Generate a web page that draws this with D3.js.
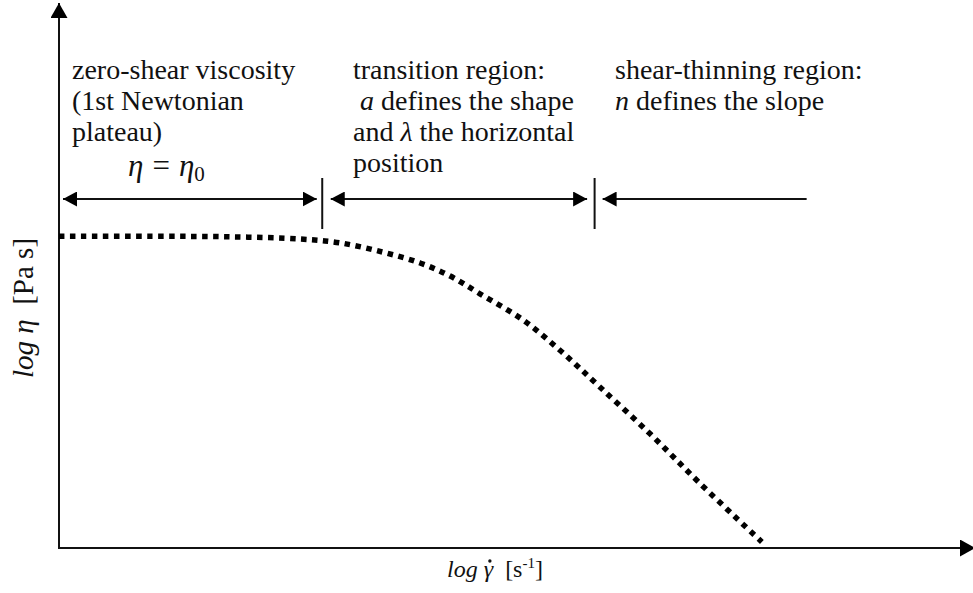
<!DOCTYPE html>
<html>
<head>
<meta charset="utf-8">
<script src="https://cdn.jsdelivr.net/npm/d3@7"></script>
<style>
body { margin: 0; background: #fff; }
text { font-family: "Liberation Serif", "Times New Roman", serif; fill: #111; }
.it { font-style: italic; }
</style>
</head>
<body>
<svg id="chart" width="973" height="593"></svg>
<script>
// curve, arbitrary units (0-100 on both axes)
var logRate = [0, 10, 18.7, 26.4, 30.7, 35.4, 39.5, 42.8, 46.1, 50.8, 55.0, 59.2, 64.7, 70.1, 76.9];
var logVisc = [57.2, 57.2, 57.1, 56.7, 56.0, 54.3, 52.3, 49.9, 46.6, 41.8, 36.0, 29.5, 20.9, 11.9, 1.1];

// region boundaries on the x axis (start, plateau end, transition end, arrow end)
var bounds = [0, 28.8, 58.6, 81.8];

var regionText = [
    [["zero-shear viscosity"], ["(1st Newtonian"], ["plateau)"]],
    [["transition region:"], [" ", "a", " defines the shape"], ["and ", "λ", " the horizontal"], ["position"]],
    [["shear-thinning region:"], ["", "n", " defines the slope"]]
];

var svg = d3.select("#chart");

var x = d3.scaleLinear().domain([0, 100]).range([59, 973]);
var y = d3.scaleLinear().domain([0, 100]).range([548, 3]);

var defs = svg.append("defs");
function addArrow(id, len, half) {
    defs.append("marker")
        .attr("id", id)
        .attr("markerUnits", "userSpaceOnUse")
        .attr("markerWidth", len)
        .attr("markerHeight", half * 2)
        .attr("refX", len)
        .attr("refY", half)
        .attr("orient", "auto-start-reverse")
        .append("path")
        .attr("d", "M0,0 L" + len + "," + half + " L0," + (half * 2) + " Z")
        .style("fill", "#000")
}
addArrow("head", 14, 7.5);
addArrow("axisHead", 15, 8.5);

// axes
svg.append("line")
    .attr("x1", x(0)).attr("y1", y(0))
    .attr("x2", x(0)).attr("y2", y(100))
    .style("stroke", "#111").style("stroke-width", 2)
    .attr("marker-end", "url(#axisHead)");

svg.append("line")
    .attr("x1", x(0) - 1).attr("y1", y(0))
    .attr("x2", x(100) + 2).attr("y2", y(0))
    .style("stroke", "#111").style("stroke-width", 2)
    .attr("marker-end", "url(#axisHead)");

// dotted viscosity curve
var line = d3.line()
    .x(function(d, i) { return x(logRate[i]); })
    .y(function(d, i) { return y(logVisc[i]); })
    .curve(d3.curveCatmullRom);

svg.append("path")
    .datum(logRate)
    .attr("d", line)
    .style("fill", "none")
    .style("stroke", "#000")
    .style("stroke-width", 5.5)
    .style("stroke-dasharray", "5.5,5.5");

// region arrows and separators
var arrowY = 199;
var arrows = [
    [x(bounds[0]) + 4, x(bounds[1]) - 5.5, true],
    [x(bounds[1]) + 8.5, x(bounds[2]) - 7.5, true],
    [x(bounds[2]) + 8, x(bounds[3]), false]
];
arrows.forEach(function(a) {
    var l = svg.append("line")
        .attr("x1", a[0]).attr("y1", arrowY)
        .attr("x2", a[1]).attr("y2", arrowY)
        .style("stroke", "#111").style("stroke-width", 2)
        .attr("marker-start", "url(#head)");
    if (a[2]) l.attr("marker-end", "url(#head)");
});

svg.selectAll(".sep")
    .data([bounds[1], bounds[2]])
    .enter()
    .append("line")
    .attr("class", "sep")
    .attr("x1", function(d) { return x(d); })
    .attr("x2", function(d) { return x(d); })
    .attr("y1", 178)
    .attr("y2", 229)
    .style("stroke", "#111")
    .style("stroke-width", 2);

// region descriptions
var textX = [72, 353, 615];
regionText.forEach(function(lines, r) {
    var t = svg.append("text")
        .attr("x", textX[r])
        .attr("y", 79)
        .style("font-size", "28px");
    lines.forEach(function(parts, j) {
        var row = t.append("tspan")
            .attr("x", textX[r])
            .attr("y", 79 + j * 31)
            .attr("xml:space", "preserve");
        parts.forEach(function(p, k) {
            row.append("tspan")
                .attr("class", k == 1 ? "it" : null)
                .text(p);
        });
    });
});

// eta = eta_0
var eta = svg.append("text")
    .attr("x", 128)
    .attr("y", 176)
    .style("font-size", "31px");
eta.append("tspan").attr("class", "it").text("η");
eta.append("tspan").attr("dx", 9).text("=");
eta.append("tspan").attr("dx", 9).attr("class", "it").text("η");
eta.append("tspan").attr("dy", 5).style("font-size", "21px").text("0");

// axis titles
var xt = svg.append("text")
    .attr("x", 447)
    .attr("y", 577)
    .attr("xml:space", "preserve")
    .style("font-size", "24px");
xt.append("tspan").attr("class", "it").text("log γ");
xt.append("tspan").text("  [s");
xt.append("tspan").attr("dy", -9).style("font-size", "15px").text("-1");
xt.append("tspan").attr("dy", 9).text("]");

// dot over gamma (combining dot renders off-centre)
var g = xt.node().getExtentOfChar(4);
svg.append("circle")
    .attr("cx", g.x + g.width / 2 + 1.5)
    .attr("cy", g.y + 5)
    .attr("r", 1.7)
    .style("fill", "#111");

var yt = svg.append("text")
    .attr("transform", "translate(33, 378) rotate(-90)")
    .attr("xml:space", "preserve")
    .style("font-size", "29px");
yt.append("tspan").attr("class", "it").text("log η");
yt.append("tspan").text("  [Pa s]");
</script>
</body>
</html>
